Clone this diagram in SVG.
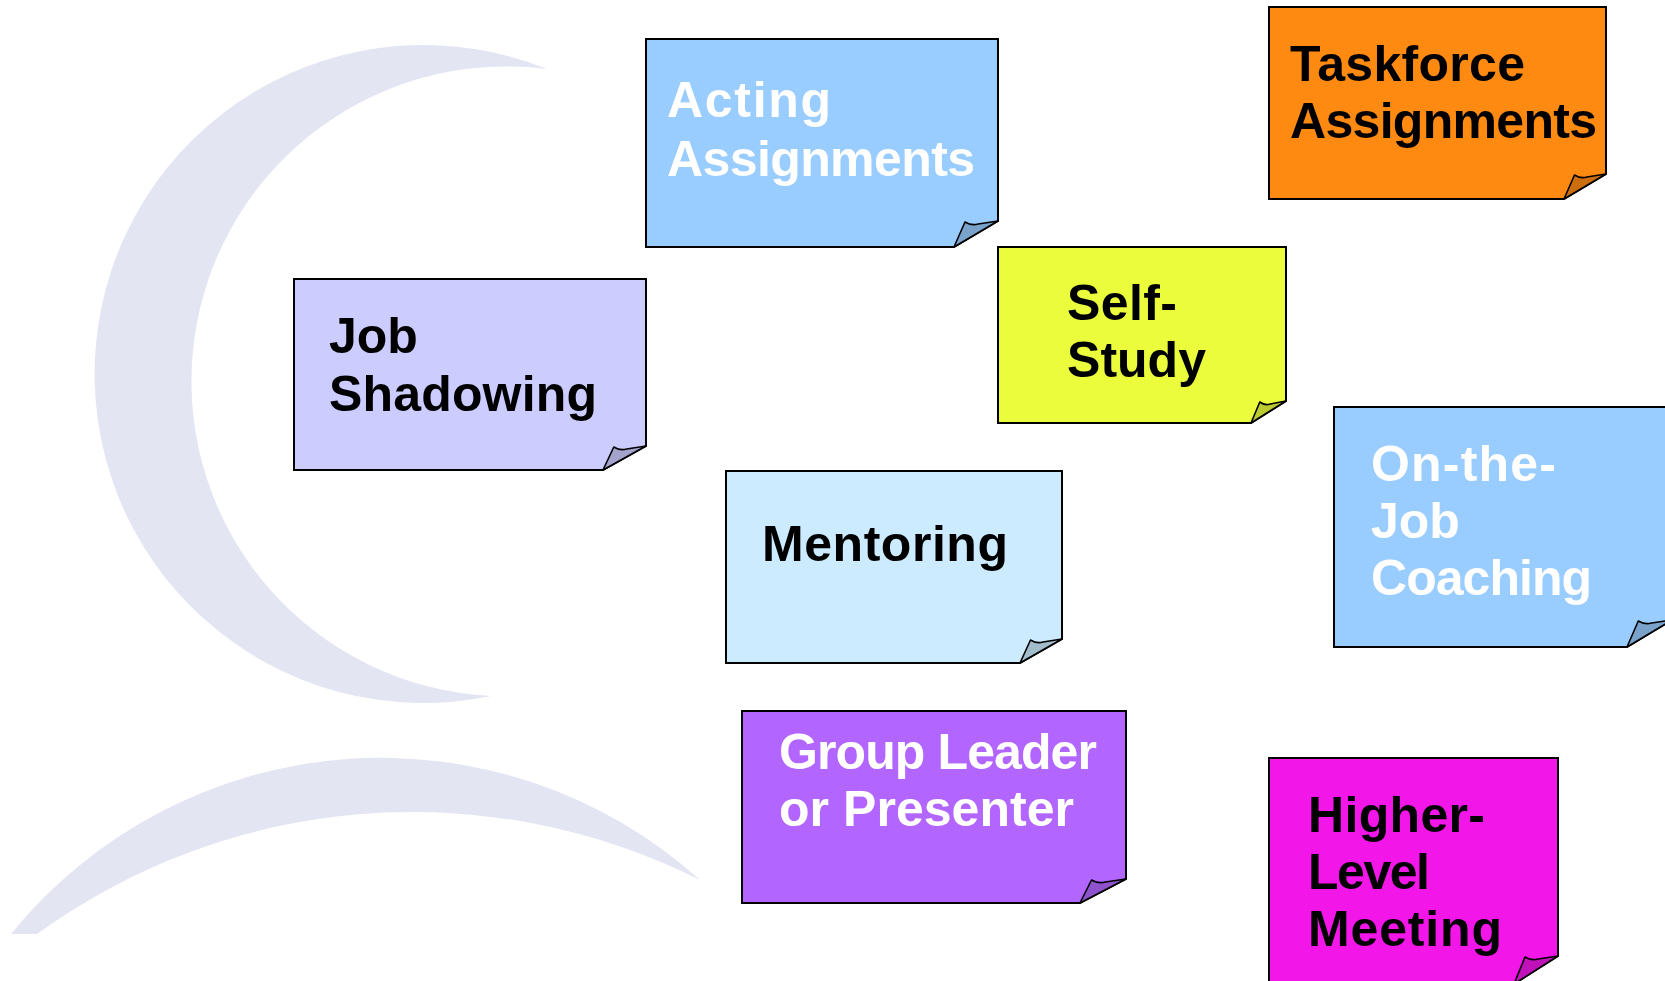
<svg xmlns="http://www.w3.org/2000/svg" width="1665" height="981" viewBox="0 0 1665 981">
<style>
.body{stroke:#000;stroke-width:2;stroke-linejoin:miter}
.fold{stroke:#000;stroke-width:1.6;stroke-linejoin:round}
.t{font-family:"Liberation Sans",Arial,sans-serif;font-weight:bold;font-size:50px}
.w{fill:#fff}
.k{fill:#000}
.bg{fill:#e3e5f3}
</style>
<rect width="1665" height="981" fill="#fff"/>
<g id="background">
<path class="bg" d="M547 69 A329 329 0 1 0 491 696 A315 315 0 1 1 547 69 Z"/>
<path class="bg" d="M11 934 A477 477 0 0 1 700 880 A640 640 0 0 0 37 934 Z"/>
</g>
<g id="connectors"></g>
<g id="acting">
<path class="body" fill="#99ccff" d="M646 39 H998 V221 L954 247 H646 Z"/>
<path class="fold" fill="#7aa3cc" d="M954 247 L965 222 Q971.6 226 978.2 224 L998 221 Z"/>
<text class="t w" x="667" y="117" textLength="164">Acting</text>
<text class="t w" x="667" y="176" textLength="308">Assignments</text>
</g>
<g id="taskforce">
<path class="body" fill="#ff8a12" d="M1269 7 H1606 V174 L1564 199 H1269 Z"/>
<path class="fold" fill="#cc6e0e" d="M1564 199 L1574.5 175 Q1580.8 179 1586.9 177 L1606 174 Z"/>
<text class="t k" x="1290" y="81" textLength="235">Taskforce</text>
<text class="t k" x="1290" y="138" textLength="307">Assignments</text>
</g>
<g id="job-shadowing">
<path class="body" fill="#ccccff" d="M294 279 H646 V446 L603 470 H294 Z"/>
<path class="fold" fill="#a3a3cc" d="M603 470 L613.8 447 Q620.2 451 626.7 449 L646 446 Z"/>
<text class="t k" x="329" y="353">Job</text>
<text class="t k" x="329" y="411" textLength="268">Shadowing</text>
</g>
<g id="self-study">
<path class="body" fill="#eafc3c" d="M998 247 H1286 V401 L1251 423 H998 Z"/>
<path class="fold" fill="#bbca30" d="M1251 423 L1259.8 402 Q1265 406 1270.3 404 L1286 401 Z"/>
<text class="t k" x="1067" y="320" textLength="110">Self-</text>
<text class="t k" x="1067" y="377" textLength="139">Study</text>
</g>
<g id="mentoring">
<path class="body" fill="#ccebff" d="M726 471 H1062 V639 L1020 663 H726 Z"/>
<path class="fold" fill="#a3bccc" d="M1020 663 L1030.5 640 Q1036.8 644 1043.1 642 L1062 639 Z"/>
<text class="t k" x="762" y="561" textLength="246">Mentoring</text>
</g>
<g id="on-the-job-coaching">
<path class="body" fill="#99ccff" d="M1334 407 H1672 V620 L1627 647 H1334 Z"/>
<path class="fold" fill="#7aa3cc" d="M1627 647 L1638.3 621 Q1645 625 1651.8 623 L1672 620 Z"/>
<text class="t w" x="1371" y="481" textLength="185">On-the-</text>
<text class="t w" x="1371" y="538">Job</text>
<text class="t w" x="1371" y="595" textLength="221">Coaching</text>
</g>
<g id="group-leader">
<path class="body" fill="#b266ff" d="M742 711 H1126 V879 L1080 903 H742 Z"/>
<path class="fold" fill="#8e52cc" d="M1080 903 L1091.5 880 Q1098.4 884 1105.3 882 L1126 879 Z"/>
<text class="t w" x="779" y="769" textLength="318">Group Leader</text>
<text class="t w" x="779" y="826" textLength="295">or Presenter</text>
</g>
<g id="higher-level-meeting">
<path class="body" fill="#f216e8" d="M1269 758 H1558 V956 L1514 984 H1269 Z"/>
<path class="fold" fill="#c012b9" d="M1514 984 L1525 957 Q1531.6 961 1538.2 959 L1558 956 Z"/>
<text class="t k" x="1308" y="832" textLength="177">Higher-</text>
<text class="t k" x="1308" y="889" textLength="122">Level</text>
<text class="t k" x="1308" y="946" textLength="194">Meeting</text>
</g>
</svg>
